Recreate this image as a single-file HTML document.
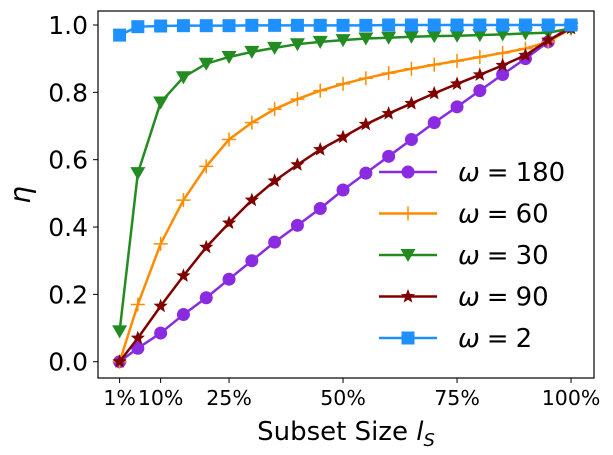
<!DOCTYPE html>
<html><head><meta charset="utf-8"><style>
body{margin:0;background:#fff;}
svg{display:block;font-family:"DejaVu Sans","Liberation Sans",sans-serif;}
</style></head><body>
<svg id="chart" width="613" height="455" viewBox="0 0 613 455" xmlns="http://www.w3.org/2000/svg">
<rect x="0" y="0" width="613" height="455" fill="#fff"/>
<g id="plot"></g>
<rect x="98" y="11" width="496" height="367" fill="none" stroke="#000" stroke-width="1.2"/>
<g id="axes"></g>
<text x="346" y="440" font-size="26" text-anchor="middle">Subset Size <tspan font-style="italic">l</tspan><tspan font-style="italic" font-size="18" dy="6">S</tspan></text>
<text x="30" y="195" font-size="28" font-style="italic" text-anchor="middle" transform="rotate(-90 30 195)">η</text>
<g id="legend"></g>
</svg>
<script>
const xValues=[1,5,10,15,20,25,30,35,40,45,50,55,60,65,70,75,80,85,90,95,100];
const w180=[0,0.04,0.085,0.14,0.19,0.245,0.30,0.355,0.405,0.455,0.51,0.56,0.61,0.66,0.71,0.757,0.805,0.853,0.90,0.95,1.0];
const w60=[0,0.17,0.35,0.48,0.58,0.66,0.71,0.75,0.78,0.805,0.825,0.842,0.857,0.87,0.882,0.893,0.905,0.917,0.93,0.95,0.99];
const w30=[0.09,0.56,0.77,0.845,0.885,0.905,0.92,0.932,0.943,0.95,0.955,0.96,0.962,0.965,0.967,0.968,0.97,0.972,0.975,0.977,0.99];
const w90=[0,0.07,0.165,0.255,0.34,0.412,0.48,0.537,0.585,0.63,0.667,0.705,0.737,0.767,0.797,0.825,0.852,0.88,0.91,0.955,0.99];
const w2=[0.97,0.995,0.997,0.998,0.998,0.998,0.999,0.999,0.999,0.999,0.999,0.999,1,1,1,1,1,1,1,1,1];
const xTicks=[1,10,25,50,75,100];
const xTickLabels=["1%","10%","25%","50%","75%","100%"];
const yTicks=[0,0.2,0.4,0.6,0.8,1.0];
const yTickLabels=["0.0","0.2","0.4","0.6","0.8","1.0"];
const seriesNames=["180","60","30","90","2"];

const X=v=>119.6+(v-1)*4.56;
const Y=v=>361.7-v*336.7;
const NS="http://www.w3.org/2000/svg";
function mk(tag,attrs,parent){const e=document.createElementNS(NS,tag);for(const k in attrs)e.setAttribute(k,attrs[k]);parent.appendChild(e);return e;}
const plot=document.getElementById('plot'),axes=document.getElementById('axes'),legend=document.getElementById('legend');

function marker(type,cx,cy,color,parent){
  let e;
  if(type==='circle') e=mk('circle',{cx:cx,cy:cy,r:6.5,fill:color},parent);
  else if(type==='plus') e=mk('path',{d:`M${cx-7} ${cy}H${cx+7}M${cx} ${cy-7}V${cy+7}`,stroke:color,'stroke-width':1.5,fill:'none'},parent);
  else if(type==='tri') e=mk('path',{d:`M${cx-7.5} ${cy-6}L${cx+7.5} ${cy-6}L${cx} ${cy+7}Z`,fill:color},parent);
  else if(type==='square') e=mk('rect',{x:cx-6.5,y:cy-6.5,width:13,height:13,fill:color},parent);
  else if(type==='star'){let p='';for(let i=0;i<10;i++){const r=i%2?3.2:7.5,a=-Math.PI/2+i*Math.PI/5;p+=(i?'L':'M')+(cx+r*Math.cos(a)).toFixed(1)+' '+(cy+r*Math.sin(a)).toFixed(1);}e=mk('path',{d:p+'Z',fill:color},parent);}
  return e;
}
const series=[[w180,'#8A2BE2','circle','series-omega-180'],[w60,'#FF8C00','plus','series-omega-60'],[w30,'#228B22','tri','series-omega-30'],[w90,'#800000','star','series-omega-90'],[w2,'#1E90FF','square','series-omega-2']];
series.forEach(([vals,color,type,name])=>{
  const g=mk('g',{},plot);
  
  
  const pl=mk('polyline',{points:vals.map((v,i)=>X(xValues[i])+','+Y(v)).join(' '),fill:'none',stroke:color,'stroke-width':2.5},g);
  
  
  vals.forEach((v,i)=>{const m=marker(type,X(xValues[i]),Y(v),color,g);
    
    });
});
xTicks.forEach((t,i)=>{
  mk('line',{x1:X(t),x2:X(t),y1:378,y2:383,stroke:'#000'},axes);
  const tx=mk('text',{x:X(t),y:405,'font-size':20.5,'text-anchor':'middle'},axes);tx.textContent=xTickLabels[i];
  
  
});
yTicks.forEach((t,i)=>{
  mk('line',{x1:93,x2:98,y1:Y(t),y2:Y(t),stroke:'#000'},axes);
  const tx=mk('text',{x:88,y:Y(t)+9,'font-size':25,'text-anchor':'end'},axes);tx.textContent=yTickLabels[i];
  
  
});
series.forEach(([vals,color,type,name],i)=>{
  const y=172+i*41.5;
  const g=mk('g',{},legend);
  
  
  mk('line',{x1:379,x2:437,y1:y,y2:y,stroke:color,'stroke-width':2.5},g);
  marker(type,408,y,color,g);
  const tx=mk('text',{x:458,y:y+9,'font-size':26},g);
  tx.innerHTML='<tspan font-style="italic">ω</tspan><tspan dx="7">=</tspan><tspan dx="7">'+seriesNames[i]+'</tspan>';
});
</script>
</body></html>
